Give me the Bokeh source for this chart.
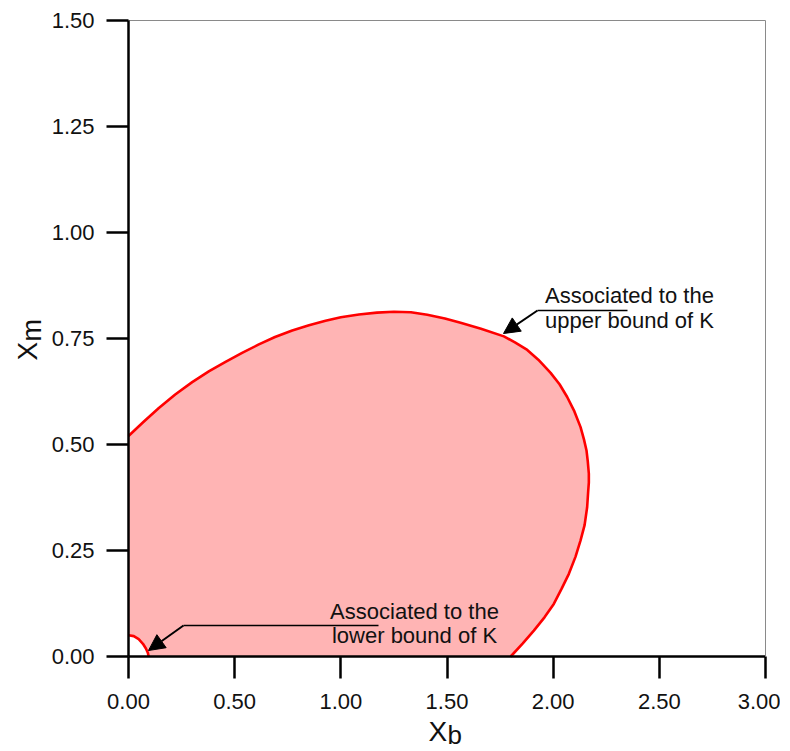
import math
from bokeh.plotting import figure
from bokeh.models import (Range1d, FixedTicker, PrintfTickFormatter, Label, Arrow, NormalHead,
                          LinearAxis)
from bokeh.embed import file_html
from bokeh.resources import INLINE

# ---- data ----
x_ticks = [0.0, 0.5, 1.0, 1.5, 2.0, 2.5, 3.0]
y_ticks = [0.0, 0.25, 0.5, 0.75, 1.0, 1.25, 1.5]

# boundary associated to the upper bound of K
upper_x = [0.000, 0.070, 0.143, 0.220, 0.300, 0.380, 0.457, 0.535, 0.614, 0.690, 0.771,
           0.850, 0.928, 1.000, 1.085, 1.170, 1.250, 1.330, 1.407, 1.490, 1.564, 1.660,
           1.768, 1.820, 1.878, 1.930, 1.988, 2.030, 2.066, 2.100, 2.129, 2.145, 2.157,
           2.163, 2.168, 2.168, 2.165, 2.160, 2.148, 2.129, 2.105, 2.074, 2.040, 2.003,
           1.960, 1.909, 1.857, 1.800]
upper_y = [0.520, 0.553, 0.586, 0.618, 0.647, 0.673, 0.695, 0.716, 0.736, 0.7535, 0.769,
           0.7815, 0.792, 0.800, 0.8065, 0.811, 0.813, 0.812, 0.806, 0.797, 0.787, 0.773,
           0.755, 0.741, 0.723, 0.700, 0.669, 0.642, 0.612, 0.578, 0.541, 0.512, 0.486,
           0.460, 0.431, 0.410, 0.390, 0.352, 0.310, 0.274, 0.235, 0.195, 0.160, 0.124,
           0.093, 0.061, 0.031, 0.000]

# boundary associated to the lower bound of K
lower_x = [0.000, 0.025, 0.048, 0.068, 0.082, 0.091, 0.095]
lower_y = [0.050, 0.048, 0.041, 0.030, 0.019, 0.009, 0.000]

FONT = "Liberation Sans"
TXT = "#111111"

# ---- layout (pixels) ----
W, H = 780, 750
LEFT, RIGHT, TOP, BOTTOM = 128, 765, 20, 656
XMIN, XMAX, YMIN, YMAX = 0.0, 3.0, 0.0, 1.5
sx = (RIGHT - LEFT) / (XMAX - XMIN)
sy = (BOTTOM - TOP) / (YMAX - YMIN)
BASE_FIX = 0.37  # measured offset of label baseline, in em

p = figure(width=W, height=H, output_backend="svg", toolbar_location=None,
           x_range=Range1d(XMIN - LEFT / sx, XMAX + (W - RIGHT) / sx),
           y_range=Range1d(YMIN - (H - BOTTOM) / sy, YMAX + TOP / sy),
           min_border=0, min_border_left=0, min_border_right=0,
           min_border_top=0, min_border_bottom=0)

p.xgrid.visible = False
p.ygrid.visible = False
p.outline_line_color = None
p.background_fill_color = "white"
p.border_fill_color = "white"

# filled region (between the two boundaries and the axes)
fill_x = lower_x + upper_x[::-1]
fill_y = lower_y + upper_y[::-1]
p.patch(fill_x, fill_y, fill_color="#ffb4b4", line_color=None)

p.line(upper_x, upper_y, line_color="#ff0000", line_width=2.6, line_join="round")
p.line(lower_x, lower_y, line_color="#ff0000", line_width=2.6, line_join="round")

xa, ya = p.xaxis[0], p.yaxis[0]
xa.fixed_location = YMIN
ya.fixed_location = XMIN
xa.bounds = (XMIN, XMAX)
ya.bounds = (YMIN, YMAX)
for ax, ticks, standoff in ((xa, x_ticks, 15), (ya, y_ticks, 12)):
    ax.ticker = FixedTicker(ticks=ticks)
    ax.formatter = PrintfTickFormatter(format="%.2f")
    ax.axis_line_width = 2.5
    ax.axis_line_color = "black"
    ax.major_tick_line_width = 2.5
    ax.major_tick_line_color = "black"
    ax.major_tick_out = 22
    ax.major_tick_in = 0
    ax.minor_tick_line_color = None
    ax.major_label_text_font = FONT
    ax.major_label_text_font_size = "22px"
    ax.major_label_text_color = TXT
    ax.major_label_standoff = standoff

# thin grey frame lines on top and right
top_ax = LinearAxis(fixed_location=YMAX, bounds=(XMIN, XMAX), ticker=FixedTicker(ticks=[]),
                    axis_line_color="#8a8a8a", axis_line_width=1,
                    major_tick_line_color=None, minor_tick_line_color=None)
right_ax = LinearAxis(fixed_location=XMAX, bounds=(YMIN, YMAX), ticker=FixedTicker(ticks=[]),
                      axis_line_color="#8a8a8a", axis_line_width=1,
                      major_tick_line_color=None, minor_tick_line_color=None)
p.add_layout(top_ax, "above")
p.add_layout(right_ax, "right")

def px2x(px):
    return XMIN + (px - LEFT) / sx

def py2y(py):
    return YMIN + (BOTTOM - py) / sy

# axis titles with subscripts (px, py = left end of baseline in the picture)
def lab(px, py, t, size, vertical=False):
    fix = BASE_FIX * size
    if vertical:
        px -= fix
    else:
        py -= fix
    p.add_layout(Label(x=px2x(px), y=py2y(py), text=t,
                       text_font=FONT, text_font_size=f"{size}px",
                       angle=math.pi / 2 if vertical else 0.0,
                       text_align="left", text_baseline="alphabetic", text_color=TXT))

lab(428, 741, "X", 28)
lab(447, 744, "b", 26)
lab(37, 360, "X", 28, vertical=True)
lab(41, 341, "m", 27, vertical=True)

# annotations
def annot(cx, y1, y2, l1, l2, size=22):
    for py, t in ((y1, l1), (y2, l2)):
        p.add_layout(Label(x=px2x(cx), y=py2y(py - BASE_FIX * size), text=t, text_font=FONT,
                           text_font_size=f"{size}px", text_align="center",
                           text_baseline="alphabetic", text_color=TXT))

annot(629, 303, 328, "Associated to the", "upper bound of K")
annot(414, 619, 643, "Associated to the", "lower bound of K")

p.segment(x0=[px2x(537), px2x(183)], y0=[py2y(310), py2y(625)],
          x1=[px2x(627), px2x(378)], y1=[py2y(310), py2y(625)],
          line_color="black", line_width=1.6)
p.add_layout(Arrow(x_start=px2x(537), y_start=py2y(310), x_end=px2x(503), y_end=py2y(333),
                   line_color="black", line_width=2,
                   end=NormalHead(size=16, fill_color="black", line_color="black")))
p.add_layout(Arrow(x_start=px2x(183), y_start=py2y(625), x_end=px2x(148), y_end=py2y(650),
                   line_color="black", line_width=2,
                   end=NormalHead(size=16, fill_color="black", line_color="black")))

open("out.html", "w").write(file_html(p, INLINE))
